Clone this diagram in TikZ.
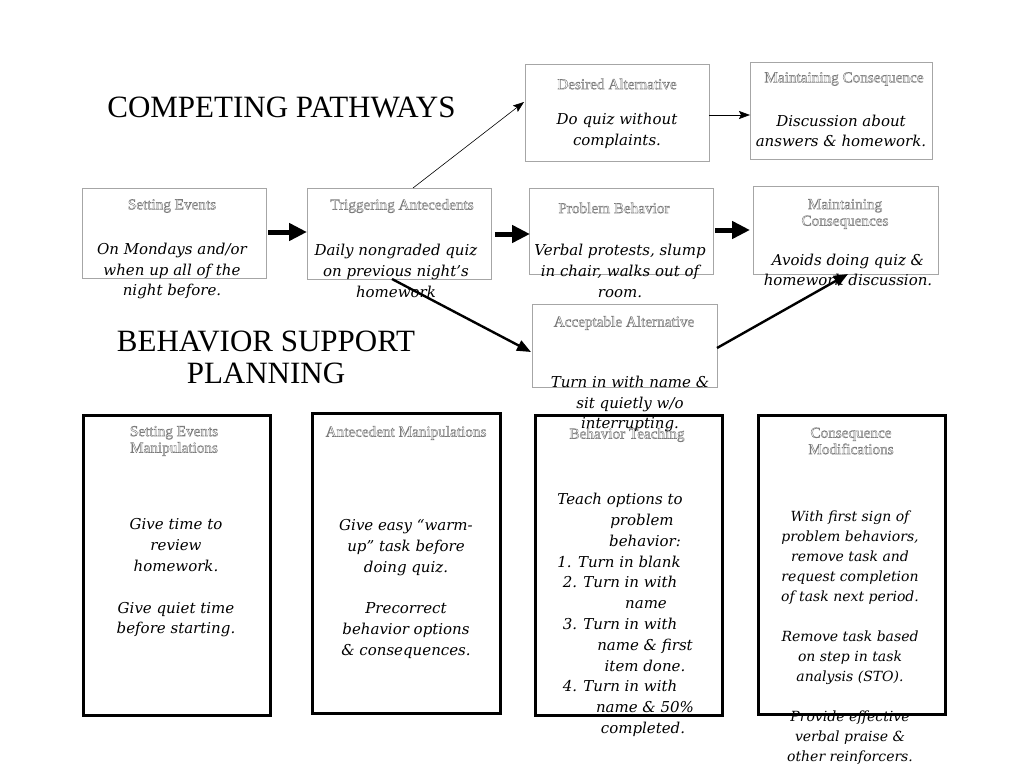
\documentclass[tikz,border=0pt]{standalone}
\usepackage{fontspec}
\setmainfont{Liberation Serif}
\newfontfamily\geo{DejaVu Serif}
\usetikzlibrary{arrows.meta}
\definecolor{boxgray}{HTML}{A6A6A6}
\definecolor{ttlgray}{HTML}{7A7A7A}
\newcommand\outl[1]{\special{pdf:literal direct 1 Tr}#1\special{pdf:literal direct 0 Tr}}
\newcommand\shl[2]{\hspace*{#1pt}#2}
\tikzset{
  pbox/.style={draw=boxgray, line width=0.9pt, inner sep=0pt, outer sep=0pt},
  bbox/.style={draw=black, line width=3pt, inner sep=0pt, outer sep=0pt},
  ttl/.style={font=\fontsize{15.2}{16.5}\selectfont, text=ttlgray, align=center, inner sep=0pt, line width=0.45pt},
  body/.style={font=\geo\itshape\fontsize{15}{20.8}\selectfont, align=center, inner sep=0pt},
  heading/.style={font=\fontsize{31}{32}\selectfont, align=center, inner sep=0pt},
  bigarrow/.style={line width=5pt, -{Triangle[length=18pt,width=17pt]}},
  midarrow/.style={line width=2.4pt, -{Triangle[length=14pt,width=11pt]}},
  thinarrow/.style={draw=black!70, line width=0.6pt, -{Stealth[length=11pt,width=8pt,inset=2pt]}, black}
}
\begin{document}
\begin{tikzpicture}[x=1pt,y=-1pt]
\useasboundingbox (0,0) rectangle (1024,768);
\fill[white] (0,0) rectangle (1024,768);

% headings
\node[heading, anchor=base] (h1) at (281.5,117) {COMPETING PATHWAYS};
\node[heading, anchor=base] (h2) at (266,351) {BEHAVIOR SUPPORT};
\node[heading, anchor=base] (h3) at (266,383) {PLANNING};

% upper boxes
\node[pbox, minimum width=184pt, minimum height=97pt] (da) at (617,112.5) {};
\node[pbox, minimum width=182pt, minimum height=97pt] (mc1) at (841,110.5) {};
\node[pbox, minimum width=184pt, minimum height=90pt] (se) at (174,233) {};
\node[pbox, minimum width=184pt, minimum height=91pt] (ta) at (399,233.5) {};
\node[pbox, minimum width=184pt, minimum height=86pt] (pb) at (621,231) {};
\node[pbox, minimum width=185pt, minimum height=88pt] (mc2) at (845.5,230) {};
\node[pbox, minimum width=185pt, minimum height=83pt] (aa) at (624.5,345.5) {};

% lower boxes
\node[bbox, minimum width=187pt, minimum height=300pt] (sem) at (176.5,565) {};
\node[bbox, minimum width=188pt, minimum height=300pt] (am) at (406,563) {};
\node[bbox, minimum width=187pt, minimum height=300pt] (bt) at (628.5,565) {};
\node[bbox, minimum width=187pt, minimum height=299pt] (cm) at (851.5,564.5) {};

% titles
\node[ttl] (dat) at (617,84) {\outl{Desired Alternative}};
\node[ttl] (mc1t) at (844,79) {\outl{Maintaining Consequence}};
\node[ttl] (set) at (172,206) {\outl{Setting Events}};
\node[ttl] (tat) at (402,206) {\outl{Triggering Antecedents}};
\node[ttl] (pbt) at (614,208) {\outl{Problem Behavior}};
\node[ttl] (mc2t) at (845,214) {\outl{Maintaining}\\\outl{Consequences}};
\node[ttl] (aat) at (624,323) {\outl{Acceptable Alternative}};
\node[ttl] (semt) at (174,441) {\outl{Setting Events}\\\outl{Manipulations}};
\node[ttl] (amt) at (406,433) {\outl{Antecedent Manipulations}};
\node[ttl] (btt) at (627,435) {\outl{Behavior Teaching}};
\node[ttl] (cmt) at (851,441) {\outl{Consequence}\\\outl{Modifications}};

% body texts
\node[body] (dab) at (617,131) {Do quiz without\\complaints.};
\node[body] (mc1b) at (841,131) {Discussion about\\answers \& homework.};
\node[body] (seb) at (172,271) {On Mondays and/or\\when up all of the\\night before.};
\node[body] (tab) at (396,271) {Daily nongraded quiz\\on previous night’s\\homework};
\node[body] (pbb) at (620,271) {Verbal protests, slump\\in chair, walks out of\\room.};
\node[body] (mc2b) at (848,270) {Avoids doing quiz \&\\homework discussion.};
\node[body] (aab) at (630,404) {Turn in with name \&\\sit quietly w/o\\interrupting.};
\node[body] (semb) at (176,578) {Give time to\\review\\homework.\\[20.8pt]Give quiet time\\before starting.};
\node[body] (amb) at (406,589) {Give easy “warm-\\up” task before\\doing quiz.\\[20.8pt]Precorrect\\behavior options\\\& consequences.};
\node[body] (btb) at (620,615) {Teach options to\\
\shl{44}{problem}\\
\shl{50}{behavior:}\\
\shl{-2}{1. Turn in blank}\\
2. Turn in with\\
\shl{52}{name}\\
3. Turn in with\\
\shl{50}{name \& first}\\
\shl{50}{item done.}\\
4. Turn in with\\
\shl{50}{name \& 50\%}\\
\shl{46}{completed.}};
\node[body, font=\geo\itshape\fontsize{14}{20}\selectfont] (cmb) at (850,638) {With first sign of\\problem behaviors,\\remove task and\\request completion\\of task next period.\\[20pt]Remove task based\\on step in task\\analysis (STO).\\[20pt]Provide effective\\verbal praise \&\\other reinforcers.};

% connectors
\draw[bigarrow] ([xshift=2pt,yshift=1pt]se.east) -- ([yshift=1pt]se.east -| ta.west);
\draw[bigarrow] ([xshift=4pt,yshift=-0.5pt]ta.east) -- ([xshift=1pt,yshift=-0.5pt]ta.east -| pb.west);
\draw[bigarrow] ([xshift=2pt,yshift=1pt]pb.east) -- ([xshift=-3pt,yshift=1pt]pb.east -| mc2.west);
\draw[thinarrow] ([xshift=14pt]ta.north) -- ([xshift=-1pt,yshift=10.5pt]da.west);
\draw[thinarrow] ([yshift=-2.5pt]da.east) -- ([yshift=-2.5pt]da.east -| mc1.west);
\draw[midarrow] ([xshift=-7pt]ta.south) -- ([xshift=-1pt,yshift=-6.5pt]aa.west);
\draw[midarrow] ([yshift=-2.5pt]aa.east) -- ([xshift=2.5pt]mc2.south);
\end{tikzpicture}
\end{document}
